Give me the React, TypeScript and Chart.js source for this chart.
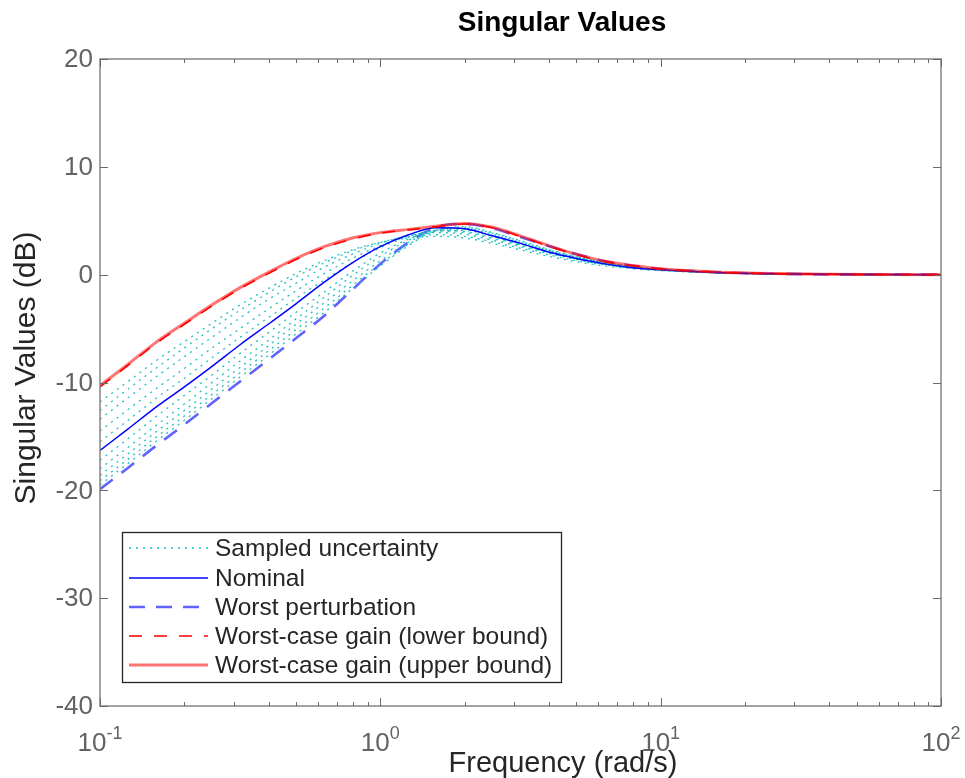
import React, { useEffect, useRef } from "react";
import { Chart, registerables } from "chart.js";

Chart.register(...registerables);

// ---------- data ----------
const frequency = [0.1, 0.126, 0.158, 0.2, 0.251, 0.316, 0.398, 0.5, 0.631, 0.794, 1, 1.26, 1.58, 2, 2.51, 3.16, 3.98, 5.01, 6.31, 7.94, 10, 15.8, 25.1, 39.8, 63.1, 100];

const sample1 = [-11.8, -9.9, -8.0, -6.2, -4.5, -2.8, -1.3, 0.1, 1.3, 2.3, 3.0, 3.4, 3.55, 3.4, 2.9, 2.3, 1.7, 1.2, 0.82, 0.55, 0.37, 0.16, 0.06, 0.02, 0.01, 0];
const sample2 = [-12.6, -10.6, -8.7, -6.8, -5.0, -3.3, -1.7, -0.2, 1.1, 2.2, 3.0, 3.5, 3.7, 3.55, 3.05, 2.45, 1.85, 1.3, 0.9, 0.6, 0.4, 0.17, 0.06, 0.02, 0.01, 0];
const sample3 = [-13.4, -11.4, -9.5, -7.6, -5.8, -4.0, -2.3, -0.8, 0.7, 1.9, 2.9, 3.6, 3.9, 3.75, 3.2, 2.6, 1.95, 1.4, 0.95, 0.63, 0.42, 0.18, 0.07, 0.02, 0.01, 0];
const sample4 = [-14.5, -12.5, -10.6, -8.7, -6.8, -5.0, -3.2, -1.5, 0.1, 1.5, 2.7, 3.6, 4.0, 3.9, 3.35, 2.7, 2.05, 1.45, 1.0, 0.66, 0.44, 0.19, 0.07, 0.03, 0.01, 0];
const sample5 = [-15.5, -13.5, -11.5, -9.6, -7.7, -5.8, -4.0, -2.2, -0.5, 1.1, 2.5, 3.5, 4.1, 4.0, 3.45, 2.8, 2.1, 1.5, 1.03, 0.68, 0.45, 0.19, 0.07, 0.03, 0.01, 0];
const sample6 = [-17.2, -15.2, -13.2, -11.2, -9.3, -7.3, -5.4, -3.5, -1.6, 0.3, 2.0, 3.3, 4.1, 4.1, 3.55, 2.85, 2.15, 1.55, 1.06, 0.7, 0.46, 0.2, 0.08, 0.03, 0.01, 0];
const sample7 = [-18.0, -16.0, -14.0, -12.0, -10.0, -8.0, -6.1, -4.1, -2.1, -0.1, 1.7, 3.2, 4.1, 4.2, 3.65, 2.95, 2.2, 1.6, 1.1, 0.72, 0.47, 0.2, 0.08, 0.03, 0.01, 0];
const sample8 = [-18.6, -16.6, -14.6, -12.6, -10.6, -8.6, -6.6, -4.6, -2.6, -0.6, 1.3, 3.0, 4.1, 4.3, 3.75, 3.0, 2.25, 1.62, 1.12, 0.73, 0.48, 0.21, 0.08, 0.03, 0.01, 0];
const sample9 = [-19.1, -17.1, -15.1, -13.1, -11.1, -9.1, -7.1, -5.1, -3.1, -1.0, 1.0, 2.8, 4.1, 4.4, 3.85, 3.1, 2.3, 1.65, 1.14, 0.75, 0.49, 0.21, 0.08, 0.03, 0.01, 0];
const sample10 = [-19.5, -17.5, -15.5, -13.5, -11.5, -9.5, -7.5, -5.5, -3.5, -1.3, 0.8, 2.7, 4.1, 4.45, 3.9, 3.15, 2.35, 1.68, 1.15, 0.76, 0.5, 0.21, 0.08, 0.03, 0.01, 0];
const sampledCurves = [sample1, sample2, sample3, sample4, sample5, sample6, sample7, sample8, sample9, sample10];

const nominal = [-16.3, -14.3, -12.3, -10.4, -8.5, -6.5, -4.6, -2.7, -0.7, 1.1, 2.6, 3.7, 4.35, 4.25, 3.6, 2.9, 2.1, 1.5, 1.0, 0.65, 0.45, 0.2, 0.08, 0.03, 0.01, 0];
const worstPerturbation = [-19.9, -17.9, -15.9, -13.9, -11.9, -9.9, -7.9, -5.9, -3.8, -1.4, 1.0, 3.0, 4.4, 4.7, 4.3, 3.5, 2.65, 1.9, 1.25, 0.83, 0.53, 0.23, 0.09, 0.03, 0.01, 0];
const lowerBound = [-10.4, -8.4, -6.4, -4.6, -2.9, -1.3, 0.1, 1.4, 2.5, 3.3, 3.85, 4.15, 4.45, 4.7, 4.35, 3.55, 2.65, 1.85, 1.22, 0.83, 0.54, 0.24, 0.1, 0.04, 0.02, 0];
const upperBound = [-10.3, -8.3, -6.3, -4.5, -2.8, -1.2, 0.2, 1.5, 2.6, 3.4, 3.9, 4.2, 4.5, 4.75, 4.4, 3.6, 2.7, 1.9, 1.25, 0.85, 0.55, 0.25, 0.1, 0.04, 0.02, 0];

const yTicks = [-40, -30, -20, -10, 0, 10, 20];
const xDecades = [0.1, 1, 10, 100];
const xExponents = ["-1", "0", "1", "2"];

const titleText = "Singular Values";
const xLabel = "Frequency (rad/s)";
const yLabel = "Singular Values (dB)";

const legendLabels = [
  "Sampled uncertainty",
  "Nominal",
  "Worst perturbation",
  "Worst-case gain (lower bound)",
  "Worst-case gain (upper bound)",
];

// ---------- styles ----------
const FONT = "'Liberation Sans', Arial, Helvetica, sans-serif";
const CYAN = "#1fbfbf";
const styles = [
  { color: CYAN, width: 1.3, dash: [2, 5] },
  { color: "#0000ff", width: 1.5, dash: [] as number[] },
  { color: "#6262ff", width: 2.6, dash: [16, 11] },
  { color: "#ff0000", width: 1.6, dash: [13, 12] },
  { color: "rgba(255,0,0,0.55)", width: 3, dash: [] as number[] },
];

const pts = (ys: number[]) => frequency.map((f, i) => ({ x: f, y: ys[i] }));

const decorPlugin = {
  id: "decor",
  afterDraw(chart: any) {
    const { ctx, chartArea: a, scales } = chart;
    const xs = scales.x;
    const ys = scales.y;
    ctx.save();

    // box
    ctx.strokeStyle = "#858585";
    ctx.lineWidth = 1.5;
    ctx.setLineDash([]);
    ctx.strokeRect(a.left, a.top, a.right - a.left, a.bottom - a.top);

    const seg = (x1: number, y1: number, x2: number, y2: number) => {
      ctx.beginPath();
      ctx.moveTo(x1, y1);
      ctx.lineTo(x2, y2);
      ctx.stroke();
    };

    ctx.lineWidth = 1;
    ctx.strokeStyle = "#6a6a6a";
    yTicks.forEach((v) => {
      const y = Math.round(ys.getPixelForValue(v)) + 0.5;
      seg(a.left, y, a.left + 8, y);
      seg(a.right, y, a.right - 8, y);
    });
    xDecades.forEach((d, di) => {
      for (let m = 1; m <= 9; m++) {
        const v = d * m;
        if (v > 100.0001) break;
        if (di === xDecades.length - 1 && m > 1) break;
        const x = Math.round(xs.getPixelForValue(v)) + 0.5;
        const len = m === 1 ? 8 : 4;
        seg(x, a.bottom, x, a.bottom - len);
        seg(x, a.top, x, a.top + len);
      }
    });

    // y tick labels
    ctx.fillStyle = "#636363";
    ctx.font = `26px ${FONT}`;
    ctx.textAlign = "right";
    ctx.textBaseline = "middle";
    yTicks.forEach((v) => {
      ctx.fillText(String(v), a.left - 7, ys.getPixelForValue(v) + 1);
    });

    // x tick labels with exponent
    ctx.textBaseline = "alphabetic";
    ctx.textAlign = "left";
    xDecades.forEach((d, i) => {
      const x = xs.getPixelForValue(d);
      ctx.font = `26px ${FONT}`;
      const w1 = ctx.measureText("10").width;
      ctx.font = `18px ${FONT}`;
      const w2 = ctx.measureText(xExponents[i]).width;
      const start = x - (w1 + w2) / 2;
      ctx.font = `26px ${FONT}`;
      ctx.fillText("10", start, 751);
      ctx.font = `18px ${FONT}`;
      ctx.fillText(xExponents[i], start + w1, 739);
    });

    // axis labels
    ctx.fillStyle = "#262626";
    ctx.font = `29px ${FONT}`;
    ctx.textAlign = "center";
    ctx.textBaseline = "alphabetic";
    ctx.fillText(xLabel, 563, 772);

    ctx.save();
    ctx.translate(27, 368);
    ctx.rotate(-Math.PI / 2);
    ctx.textBaseline = "middle";
    ctx.font = `30px ${FONT}`;
    ctx.fillText(yLabel, 0, 0);
    ctx.restore();

    // title
    ctx.fillStyle = "#000000";
    ctx.font = `bold 28px ${FONT}`;
    ctx.textAlign = "center";
    ctx.fillText(titleText, 562, 31);

    // legend
    const lx = 122, ly = 532, lw = 439, lh = 150;
    ctx.fillStyle = "#ffffff";
    ctx.fillRect(lx, ly, lw, lh);
    ctx.strokeStyle = "#262626";
    ctx.lineWidth = 1.3;
    ctx.setLineDash([]);
    ctx.strokeRect(lx + 0.5, ly + 0.5, lw, lh);
    const rows = [548, 578, 607, 636, 665];
    legendLabels.forEach((label, i) => {
      const s = styles[i];
      ctx.strokeStyle = s.color;
      ctx.lineWidth = s.width;
      ctx.setLineDash(s.dash);
      seg(129, rows[i], 208, rows[i]);
      ctx.setLineDash([]);
      ctx.fillStyle = "#262626";
      ctx.font = `24.5px ${FONT}`;
      ctx.textAlign = "left";
      ctx.textBaseline = "middle";
      ctx.fillText(label, 215, rows[i] + 1);
    });

    ctx.restore();
  },
};

export default function App() {
  const canvasRef = useRef<HTMLCanvasElement | null>(null);

  useEffect(() => {
    document.body.style.margin = "0";
    const canvas = canvasRef.current;
    if (!canvas) return;

    const line = (label: string, data: number[], s: any, order: number) => ({
      label,
      data: pts(data),
      borderColor: s.color,
      borderWidth: s.width,
      borderDash: s.dash,
      pointRadius: 0,
      fill: false,
      cubicInterpolationMode: "monotone" as const,
      order,
    });

    const datasets: any[] = [
      line(legendLabels[3], lowerBound, styles[3], 0),
      line(legendLabels[4], upperBound, styles[4], 1),
      line(legendLabels[1], nominal, styles[1], 2),
      ...sampledCurves.map((c, i) => line(legendLabels[0] + " " + (i + 1), c, styles[0], 3 + i)),
      line(legendLabels[2], worstPerturbation, styles[2], 20),
    ];

    const chart = new Chart(canvas, {
      type: "line",
      data: { datasets },
      options: {
        responsive: false,
        animation: false,
        devicePixelRatio: 1,
        parsing: false as any,
        layout: { padding: { left: 100, top: 59, right: 24, bottom: 72 } },
        plugins: { legend: { display: false }, tooltip: { enabled: false }, title: { display: false } },
        scales: {
          x: { type: "logarithmic", min: 0.1, max: 100, display: false },
          y: { type: "linear", min: -40, max: 20, display: false },
        },
      },
      plugins: [decorPlugin],
    });
    return () => chart.destroy();
  }, []);

  return (
    <div style={{ width: 965, height: 778, background: "#fff" }}>
      <canvas ref={canvasRef} width={965} height={778} />
    </div>
  );
}
